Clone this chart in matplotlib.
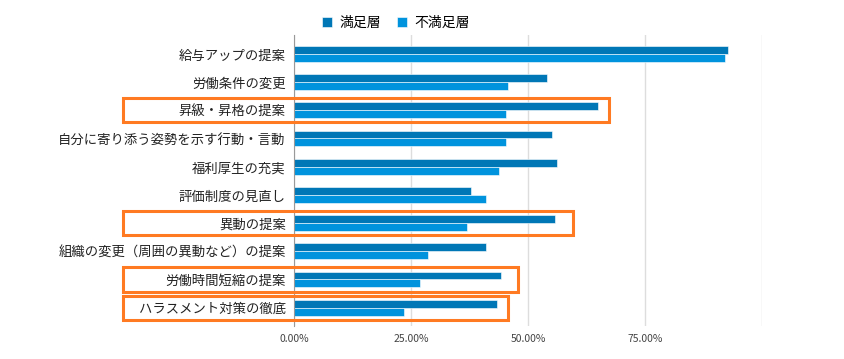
import matplotlib
matplotlib.use("Agg")
from matplotlib import pyplot as plt
from matplotlib.patches import Rectangle
from matplotlib.ticker import FuncFormatter

plt.rcParams['font.family'] = ['Noto Sans CJK JP', 'DejaVu Sans']

categories = ["給与アップの提案", "労働条件の変更", "昇級・昇格の提案",
              "自分に寄り添う姿勢を示す行動・言動", "福利厚生の充実", "評価制度の見直し",
              "異動の提案", "組織の変更（周囲の異動など）の提案", "労働時間短縮の提案",
              "ハラスメント対策の徹底"]
satisfied = [92.8, 54.0, 64.9, 55.2, 56.3, 37.9, 55.8, 41.1, 44.3, 43.3]
unsatisfied = [92.0, 45.7, 45.2, 45.2, 43.7, 41.1, 37.0, 28.6, 27.0, 23.6]
series_names = ["満足層", "不満足層"]
ticks = [0, 25, 50, 75, 100]

# highlighted rows and where their boxes end (percent)
highlight = [2, 6, 8, 9]
box_right = [67.3, 59.7, 47.9, 45.8]

dark = "#0077B6"
light = "#0093DD"
orange = "#FF7A22"

fig = plt.figure(figsize=(8.44, 3.59), dpi=100)
ax = fig.add_axes([294 / 844, 1 - 326 / 359, 468 / 844, 291 / 359])

h = 0.28
y = list(range(len(categories)))
ax.barh([i - h / 2 for i in y], satisfied, height=h, color=dark, label=series_names[0],
        edgecolor="white", linewidth=0.4)
ax.barh([i + h / 2 for i in y], unsatisfied, height=h, color=light, label=series_names[1],
        edgecolor="white", linewidth=0.4)

ax.set_xlim(0, 100)
ax.set_ylim(len(categories) - 0.35, -0.67)
ax.set_yticks(y)
ax.set_yticklabels(categories, fontsize=9.6, color="#222222")
ax.set_xticks(ticks)
ax.xaxis.set_major_formatter(FuncFormatter(lambda v, p: "" if v == 100 else f"{v:.2f}%"))
ax.tick_params(axis="x", labelsize=7.5, colors="#444444", length=0, pad=6)
ax.tick_params(axis="y", length=0, pad=6)
ax.grid(axis="x", color="#DDDDDD", linewidth=1)
ax.set_axisbelow(True)
for s in ["top", "right", "bottom"]:
    ax.spines[s].set_visible(False)
ax.spines["left"].set_color("#999999")

left_edge = -36.5
for idx, r in zip(highlight, box_right):
    rect = Rectangle((left_edge, idx - 0.43), r - left_edge, 0.86, fill=False,
                     edgecolor=orange, linewidth=2.2, clip_on=False, zorder=5)
    ax.add_patch(rect)

fig.legend(loc="upper center", bbox_to_anchor=(396 / 844, 0.99), ncol=2, frameon=False,
           fontsize=10, handlelength=0.7, handleheight=0.7, columnspacing=1.2,
           handletextpad=0.5)

fig.savefig("out.png", dpi=100)
